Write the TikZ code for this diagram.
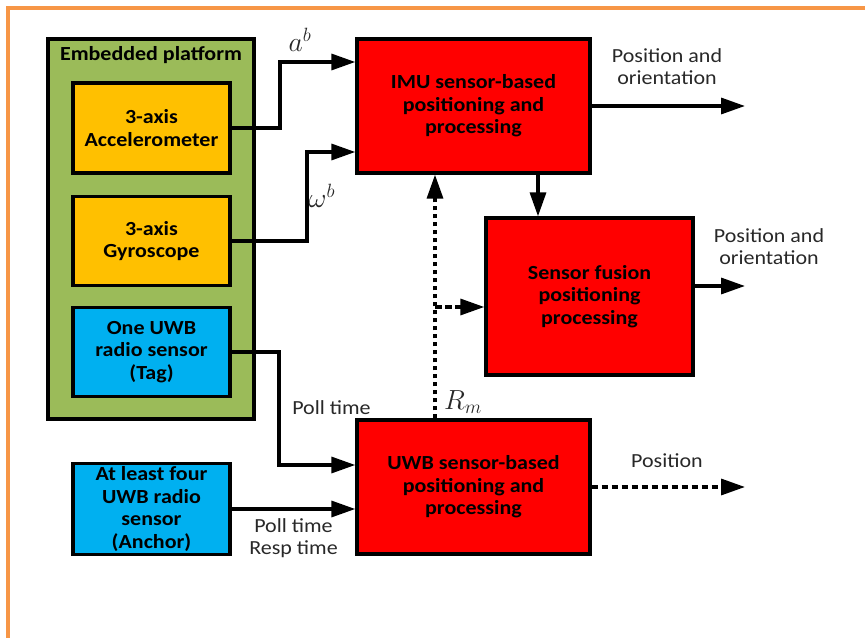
\documentclass[tikz,border=0pt]{standalone}
\usepackage{fontspec}
\setmainfont[FakeStretch=1.1]{Carlito}
\usetikzlibrary{arrows.meta}
\definecolor{platgreen}{RGB}{155,187,89}
\definecolor{sensorgold}{RGB}{255,192,0}
\definecolor{radioblue}{RGB}{0,176,240}
\definecolor{procred}{RGB}{255,0,0}
\definecolor{frameorange}{RGB}{247,150,70}
\definecolor{labelgray}{RGB}{40,40,40}
\begin{document}
\begin{tikzpicture}[x=0.75pt,y=-0.75pt,
    blk/.style={draw=black, line width=2.5pt, align=center, inner sep=2pt,
      font=\fontsize{15}{17}\selectfont\bfseries},
    platbox/.style={blk, fill=platgreen, minimum width=154.5pt, minimum height=285pt},
    sensbox/.style={blk, fill=sensorgold, minimum width=117.75pt, minimum height=67pt},
    radiobox/.style={blk, fill=radioblue, minimum width=117.75pt, minimum height=67pt},
    procbox/.style={blk, fill=procred, minimum width=174.75pt, minimum height=100.5pt},
    lbl/.style={text=labelgray, align=center, font=\fontsize{15}{16.5}\selectfont},
    mathlbl/.style={lbl, font=\fontsize{20}{22}\selectfont},
    arr/.style={line width=2.5pt, -{Triangle[length=18pt,width=12pt]}},
    dotarr/.style={arr, dash pattern=on 3pt off 3pt},
    dasharr/.style={arr, dash pattern=on 5pt off 2.5pt}]
  \useasboundingbox (0,0) rectangle (865,638);
  \draw [frameorange, line width=3pt] (7.5,638) -- (7.5,8.5) -- (865,8.5);
  % embedded platform
  \node [platbox] (plat) at (151,229) {};
  \node [blk, draw=none] (plattitle) at (151,55) {Embedded platform};
  \node [sensbox, minimum height=67.5pt] (acc) at (151.5,128) {3-axis\\Accelerometer};
  \node [sensbox] (gyro) at (151.5,241) {3-axis\\Gyroscope};
  \node [radiobox] (tag) at (151.5,352) {One UWB\\radio sensor\\(Tag)};
  \node [radiobox, minimum height=67.5pt] (anchor) at (151.5,509) {At least four\\UWB radio\\sensor\\(Anchor)};
  % processing blocks
  \node [procbox] (imu) at (473.5,106) {IMU sensor-based\\positioning and\\processing};
  \node [procbox, minimum width=155.25pt, minimum height=117.75pt] (fusion) at (589.5,296.5) {Sensor fusion\\positioning\\processing};
  \node [procbox] (uwb) at (473.5,487) {UWB sensor-based\\positioning and\\processing};
  % labels
  \node [mathlbl] (alabel) at (300,40) {$a^b$};
  \node [mathlbl] (wlabel) at (322,196) {$\omega^b$};
  \node [mathlbl] (rlabel) at (463,402) {$R_m$};
  \node [lbl] (imuoutlabel) at (667,67) {Position and\\orientation};
  \node [lbl] (fusoutlabel) at (769,247) {Position and\\orientation};
  \node [lbl] (uwboutlabel) at (667,461) {Position};
  \node [lbl] (taglabel) at (331.5,408) {Poll time};
  \node [lbl] (anchorlabel) at (293.5,538.5) {Poll time\\Resp time};
  % connectors
  \coordinate (accbend) at (280,62);
  \coordinate (gyrbend) at (307,152);
  \coordinate (tagbend) at (279,465);
  \coordinate (drop) at (538,195);
  \coordinate (rmtap) at (435,307);
  \coordinate (imuout) at (745,106);
  \coordinate (fusout) at (745,286);
  \coordinate (uwbout) at (745,487);
  \draw [arr] (acc.east) -- (acc.east -| accbend) -- (accbend) -- (accbend -| imu.west);
  \draw [arr] (gyro.east) -- (gyro.east -| gyrbend) -- (gyrbend) -- (gyrbend -| imu.west);
  \draw [arr] (tag.east) -- (tag.east -| tagbend) -- (tagbend) -- (tagbend -| uwb.west);
  \draw [arr] (anchor.east) -- (uwb.west |- anchor.east);
  \draw [arr] (imu.east) -- (imuout);
  \draw [arr] (imu.south -| drop) -- (fusion.north -| drop);
  \draw [arr] (fusout -| fusion.east) -- (fusout);
  \draw [dotarr] (uwb.north -| rmtap) -- (imu.south -| rmtap);
  \draw [dasharr] (rmtap) -- (rmtap -| fusion.west);
  \draw [dasharr] (uwb.east) -- (uwbout);
\end{tikzpicture}
\end{document}
